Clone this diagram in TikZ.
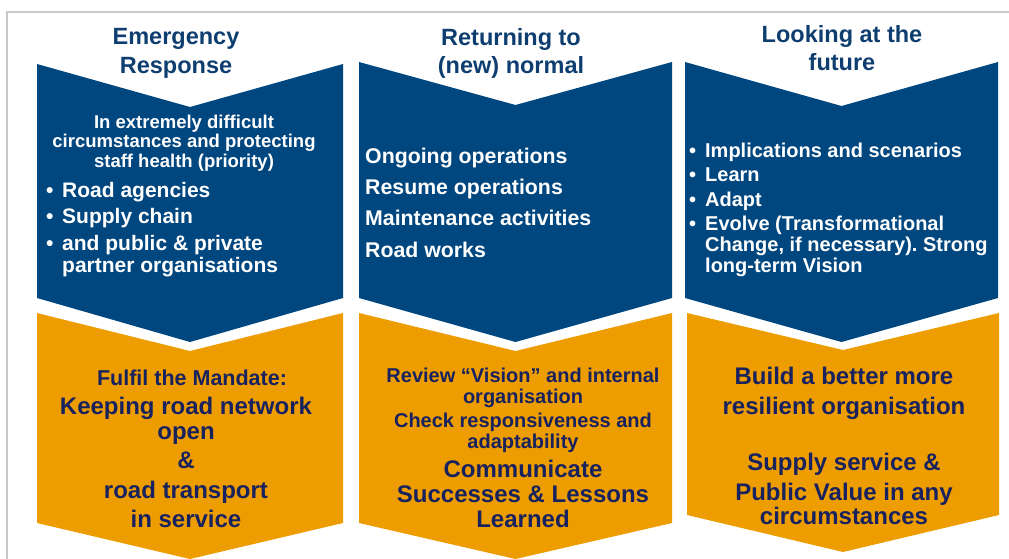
\documentclass[tikz,border=0pt]{standalone}
\usepackage{fontspec}
\setmainfont{Liberation Sans}
\frenchspacing
\definecolor{chevblue}{RGB}{0,70,127}
\definecolor{chevorange}{RGB}{238,157,0}
\definecolor{headblue}{RGB}{14,62,112}
\definecolor{deepnavy}{RGB}{24,34,94}
\definecolor{framegray}{RGB}{200,200,200}
\newcommand{\bul}{\makebox[16pt][l]{\textbullet}}
\newcommand{\nobul}{\makebox[16pt]{}}
% chevron: colour, left, right, top, notch, bottom, point
\newcommand{\chevron}[7]{\fill[#1] (#2,#4) -- ({(#2+#3)/2},#5) -- (#3,#4) -- (#3,#6) -- ({(#2+#3)/2},#7) -- (#2,#6) -- cycle;}
\tikzset{
every node/.style={inner sep=0pt}, % text sits right on its anchor
heading/.style={text=headblue, align=center, anchor=north}, % column titles
bluehead/.style={text=white, align=center, anchor=north}, % centred text in the blue boxes
bluelist/.style={text=white, align=left, anchor=north west}, % lists in the blue boxes
orangetxt/.style={text=deepnavy, align=center, anchor=north}, % text in the orange boxes
}

\begin{document}
\begin{tikzpicture}[x=1pt,y=-1pt]
\useasboundingbox (0,0) rectangle (1009,559);
\draw[framegray, line width=2pt] (7,559) -- (7,12) -- (1009,12);
%blue and orange chevrons, three columns
\chevron{chevblue}{37}{343}{64}{107}{298}{342}
\chevron{chevorange}{37}{343}{313}{351}{523}{559}
\chevron{chevblue}{359}{672}{62}{105}{298}{342}
\chevron{chevorange}{359}{672}{313}{351}{523}{559}
\chevron{chevblue}{685}{998}{62}{106}{298}{342}
\chevron{chevorange}{687}{999}{313}{350}{515}{552}
%titles
\node[heading, font=\fontsize{23.5}{29}\selectfont\bfseries] (emerg) at (176,28.2) {Emergency\\Response};
\node[heading, font=\fontsize{23.5}{28.5}\selectfont\bfseries] (normal) at (511,28.2) {Returning to\\(new) normal};
\node[heading, font=\fontsize{23.5}{28.5}\selectfont\bfseries] (future) at (842,25.2) {Looking at the\\future};
%blue boxes
\node[bluehead, font=\fontsize{18.5}{19.5}\selectfont\bfseries] (difficult) at (184,114.5) {In extremely difficult\\circumstances and protecting\\staff health (priority)};
\node[bluelist, font=\fontsize{21}{22}\selectfont\bfseries] (agencies) at (46,181.7) {\bul Road agencies\\[4.5pt]\bul Supply chain\\[4.5pt]\bul and public \& private\\\nobul partner organisations};
\node[bluelist, font=\fontsize{21.3}{31.3}\selectfont\bfseries] (ongoing) at (365,147.5) {Ongoing operations\\Resume operations\\Maintenance activities\\Road works};
\node[bluelist, font=\fontsize{20}{21}\selectfont\bfseries] (implic) at (689,142.4) {\bul Implications and scenarios\\[3.5pt]\bul Learn\\[3.5pt]\bul Adapt\\[3.5pt]\bul Evolve (Transformational\\\nobul Change, if necessary). Strong\\\nobul long-term Vision};
%orange boxes
\node[orangetxt, font=\fontsize{21.5}{26}\selectfont\bfseries] (mandate) at (192,369.3) {Fulfil the Mandate:};
\node[orangetxt, font=\fontsize{24}{29.5}\selectfont\bfseries] (keeping) at (186,396.5) {Keeping road network\\[-4.5pt]open\\\&\\road transport\\in service};
\node[orangetxt, font=\fontsize{20}{21}\selectfont\bfseries] (review) at (523,367.4) {Review “Vision” and internal\\organisation\\[3pt]Check responsiveness and\\adaptability};
\node[orangetxt, font=\fontsize{24}{25}\selectfont\bfseries] (communicate) at (523,459.5) {Communicate\\Successes \& Lessons\\Learned};
\node[orangetxt, font=\fontsize{24}{24}\selectfont\bfseries] (resilient) at (844,366.5) {Build a better more\\[6pt]resilient organisation\\[32pt]Supply service \&\\[6pt]Public Value in any\\circumstances};
\end{tikzpicture}
\end{document}
